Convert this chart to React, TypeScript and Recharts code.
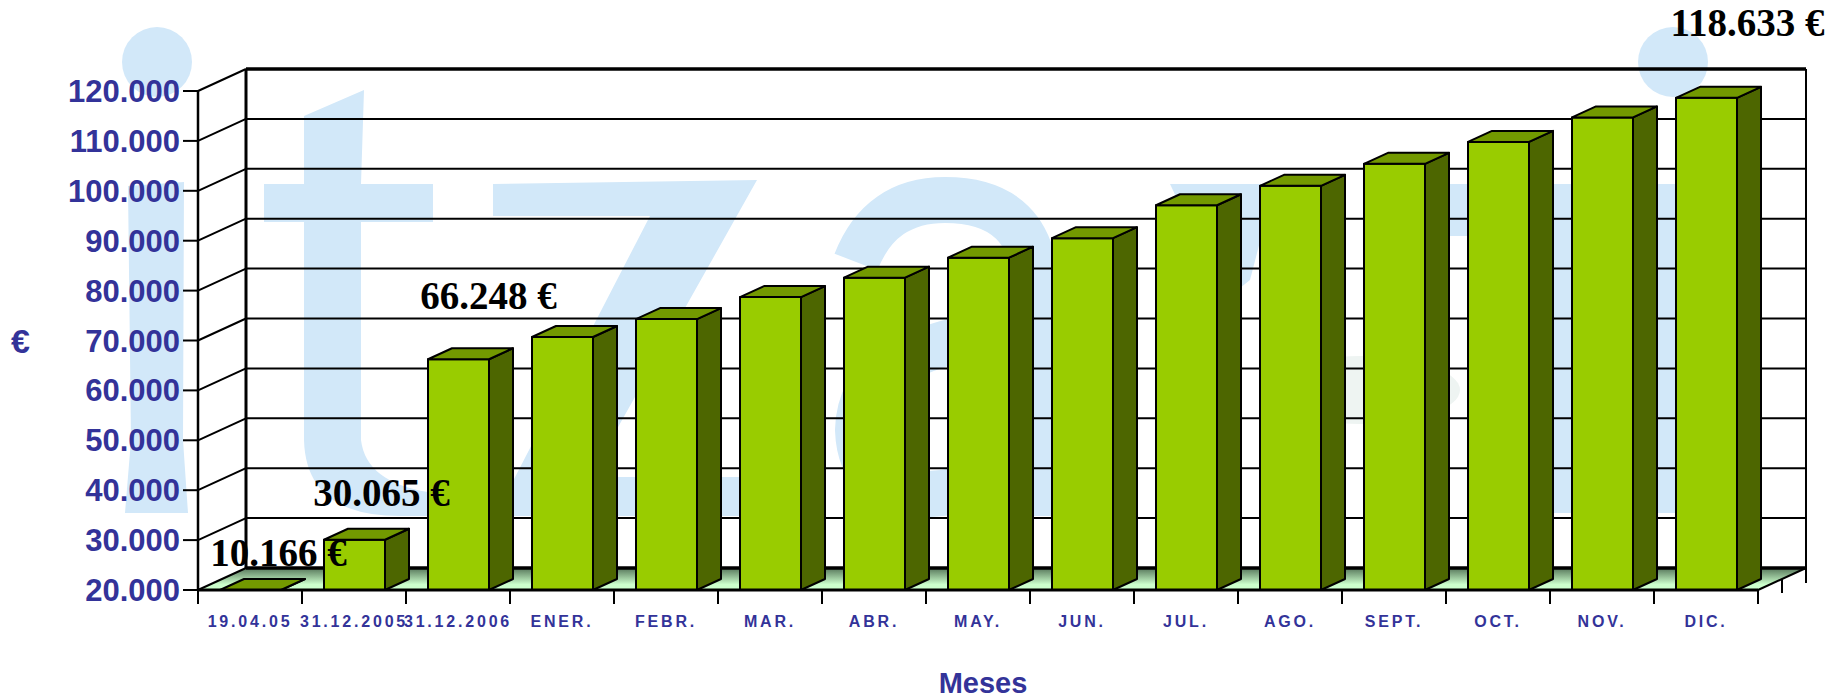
import { BarChart, Bar, XAxis, YAxis, ReferenceArea, ReferenceLine, LabelList } from "recharts"

const categories = [
  "19.04.05", "31.12.2005", "31.12.2006", "ENER.", "FEBR.", "MAR.", "ABR.", "MAY.",
  "JUN.", "JUL.", "AGO.", "SEPT.", "OCT.", "NOV.", "DIC.",
]
const amounts = [
  10166, 30065, 66248, 70700, 74300, 78700, 82600, 86600,
  90500, 97100, 101000, 105400, 109800, 114700, 118633,
]
const valueLabels = ["10.166 €", "30.065 €", "66.248 €", "", "", "", "", "", "", "", "", "", "", "", "118.633 €"]
const yTicks = [20000, 30000, 40000, 50000, 60000, 70000, 80000, 90000, 100000, 110000, 120000]

const AXIS_MIN = 20000
const AXIS_MAX = 120000

// depth of the fake 3d box
const DEPTH_X = 48
const DEPTH_Y = 22
const BAR_DEPTH_X = 24
const BAR_DEPTH_Y = 11

const BLUE = "#333399"
const SANS = "'Liberation Sans', Arial, sans-serif"
const SERIF = "'Liberation Serif', 'Times New Roman', serif"
const WATERMARK = "#d2e8f9"

// nudges for the hand placed value labels [dx, baseline dy], by bar index
const labelNudge: Record<number, [number, number]> = {
  0: [28, -24],
  1: [27, -34],
  2: [30, -50],
  14: [41, -62],
}

const chartData = categories.map((name, i) => ({
  name,
  amount: amounts[i],
  label: valueLabels[i],
}))

function Bar3D(props: any) {
  const { x, y, width, height } = props
  const bottom = y + height
  const top = Math.min(y, bottom)
  const right = x + width
  const line = { stroke: "#000", strokeWidth: 2, strokeLinejoin: "round" as const }
  return (
    <g>
      {bottom > top && <rect x={x} y={top} width={width} height={bottom - top} fill="#99cc00" {...line} />}
      <polygon
        points={`${right},${top} ${right + BAR_DEPTH_X},${top - BAR_DEPTH_Y} ${right + BAR_DEPTH_X},${bottom - BAR_DEPTH_Y} ${right},${bottom}`}
        fill="#4d6600"
        {...line}
      />
      <polygon
        points={`${x},${top} ${x + BAR_DEPTH_X},${top - BAR_DEPTH_Y} ${right + BAR_DEPTH_X},${top - BAR_DEPTH_Y} ${right},${top}`}
        fill="#739900"
        {...line}
      />
    </g>
  )
}

// floor, back wall edges and the side ticks on the right
function Room(props: any) {
  const { x, y, width, height } = props
  const right = x + width
  const bottom = y + height
  const midX = right + DEPTH_X / 2
  const midY = bottom - DEPTH_Y / 2
  return (
    <g>
      <defs>
        <linearGradient id="floorFill" x1="0" y1="0" x2="0" y2="1">
          <stop offset="0" stopColor="#56765a" />
          <stop offset="0.75" stopColor="#ccffcc" />
        </linearGradient>
      </defs>
      <polygon
        points={`${x},${bottom} ${x + DEPTH_X},${bottom - DEPTH_Y} ${right + DEPTH_X},${bottom - DEPTH_Y} ${right},${bottom}`}
        fill="url(#floorFill)"
      />
      <line x1={x + DEPTH_X} y1={y - DEPTH_Y} x2={x + DEPTH_X} y2={bottom - DEPTH_Y} stroke="#000" strokeWidth={3} />
      <line x1={right + DEPTH_X} y1={y - DEPTH_Y} x2={right + DEPTH_X} y2={bottom - DEPTH_Y + 15} stroke="#000" strokeWidth={2} />
      <line x1={right} y1={bottom} x2={right + DEPTH_X} y2={bottom - DEPTH_Y} stroke="#000" strokeWidth={2} />
      <line x1={midX} y1={midY} x2={midX} y2={midY + 14} stroke="#000" strokeWidth={2} />
      <line x1={x + DEPTH_X} y1={bottom - DEPTH_Y} x2={right + DEPTH_X} y2={bottom - DEPTH_Y} stroke="#000" strokeWidth={3.5} />
    </g>
  )
}

function WallLine(props: any) {
  const { x1, y1, x2, y2, tickValue } = props
  const edge = tickValue === AXIS_MAX
  return (
    <g stroke="#000">
      <line x1={x1} y1={y1} x2={x1 + DEPTH_X} y2={y1 - DEPTH_Y} strokeWidth={2} />
      {tickValue !== AXIS_MIN && (
        <line x1={x1 + DEPTH_X} y1={y1 - DEPTH_Y} x2={x2 + DEPTH_X} y2={y2 - DEPTH_Y} strokeWidth={edge ? 3.5 : 2} />
      )}
    </g>
  )
}

function MonthTick(props: any) {
  const { x, y, payload, index, width, visibleTicksCount } = props
  const step = width / visibleTicksCount
  const left = x - step / 2
  return (
    <g>
      <line x1={left} y1={y - 8} x2={left} y2={y + 6} stroke="#000" strokeWidth={2} />
      {index === visibleTicksCount - 1 && (
        <line x1={left + step} y1={y - 8} x2={left + step} y2={y + 6} stroke="#000" strokeWidth={2} />
      )}
      <text
        x={x}
        y={y + 29}
        textAnchor="middle"
        fill={BLUE}
        fontFamily={SANS}
        fontWeight="bold"
        fontSize={16}
        letterSpacing={2.8}
      >
        {payload.value}
      </text>
    </g>
  )
}

function ValueLabel(props: any) {
  const { x, y, width, height, value, index } = props
  const nudge = labelNudge[index]
  if (!value || !nudge) return null
  const top = Math.min(y, y + height)
  return (
    <text
      x={x + width / 2 + nudge[0]}
      y={top + nudge[1]}
      textAnchor="middle"
      fill="#000"
      fontFamily={SERIF}
      fontWeight="bold"
      fontSize={39}
    >
      {value}
    </text>
  )
}

function Watermark() {
  return (
    <svg width={1841} height={699} style={{ position: "absolute", left: 0, top: 0 }}>
      <g fill={WATERMARK}>
        <circle cx={157} cy={62} r={35} />
        <path d="M128 186 L184 182 L183 440 L188 513 L125 513 L131 440 Z" />
        <path d="M304 116 L364 90 L361 184 L433 184 L433 222 L361 222 L361 440 Q366 482 428 492 L448 516 L400 516 Q306 516 304 440 L304 222 L264 222 L264 184 L304 184 Z" />
        <path d="M493 184 L757 180 L590 477 L780 477 L780 516 L495 516 L650 216 L493 216 Z" />
        <circle cx={1673} cy={62} r={35} />
        <path d="M1645 184 L1700 184 L1700 513 L1645 513 Z" />
        <path d="M1445 184 L1600 184 L1600 513 L1545 513 L1545 236 L1445 236 Z" />
        <path d="M1170 184 L1275 184 L1250 280 L1225 300 Z" />
      </g>
      <g fill="none" stroke={WATERMARK} strokeWidth={46}>
        <path d="M856 262 Q880 200 945 200 Q1034 200 1036 290 L1036 516" />
        <path d="M1036 330 Q860 340 858 430 Q860 492 930 494 Q1000 490 1036 450" />
      </g>
      <ellipse cx={1360} cy={390} rx={100} ry={34} fill="#eef4f2" />
    </svg>
  )
}

export default function App() {
  return (
    <div style={{ position: "absolute", left: 0, top: 0, width: 1841, height: 699, background: "#fff" }}>
      <Watermark />
      <div style={{ position: "absolute", left: 0, top: 0 }}>
        <BarChart
          width={1841}
          height={699}
          data={chartData}
          margin={{ top: 91, right: 83, bottom: 0, left: 0 }}
          barSize={61}
        >
          <XAxis
            dataKey="name"
            height={109}
            interval={0}
            tickLine={false}
            tickSize={8}
            tickMargin={0}
            axisLine={{ stroke: "#000", strokeWidth: 3 }}
            tick={<MonthTick />}
            label={{
              value: "Meses",
              position: "insideBottom",
              offset: 6,
              dx: 5,
              fill: BLUE,
              fontFamily: SANS,
              fontWeight: "bold",
              fontSize: 29,
            }}
          />
          <YAxis
            width={198}
            domain={[AXIS_MIN, AXIS_MAX]}
            ticks={yTicks}
            interval={0}
            tickSize={15}
            tickMargin={3}
            tickFormatter={(v: number) => `${v / 1000}.000`}
            tick={{ fill: BLUE, fontFamily: SANS, fontWeight: "bold", fontSize: 31 }}
            tickLine={{ stroke: "#000", strokeWidth: 2 }}
            axisLine={{ stroke: "#000", strokeWidth: 2.5 }}
            label={{
              value: "€",
              position: "insideLeft",
              offset: 11,
              fill: BLUE,
              fontFamily: SANS,
              fontWeight: "bold",
              fontSize: 34,
            }}
          />

          <ReferenceArea y1={AXIS_MIN} y2={AXIS_MAX} zIndex={-100} shape={<Room />} />
          {yTicks.map((t) => (
            <ReferenceLine key={t} y={t} zIndex={-90} shape={<WallLine tickValue={t} />} />
          ))}

          {/* first amount is under the axis floor, it sits flat on the floor */}
          <Bar
            dataKey={(d: any) => Math.max(d.amount, AXIS_MIN)}
            isAnimationActive={false}
            shape={<Bar3D />}
          >
            <LabelList dataKey="label" content={<ValueLabel />} />
          </Bar>
        </BarChart>
      </div>
    </div>
  )
}
